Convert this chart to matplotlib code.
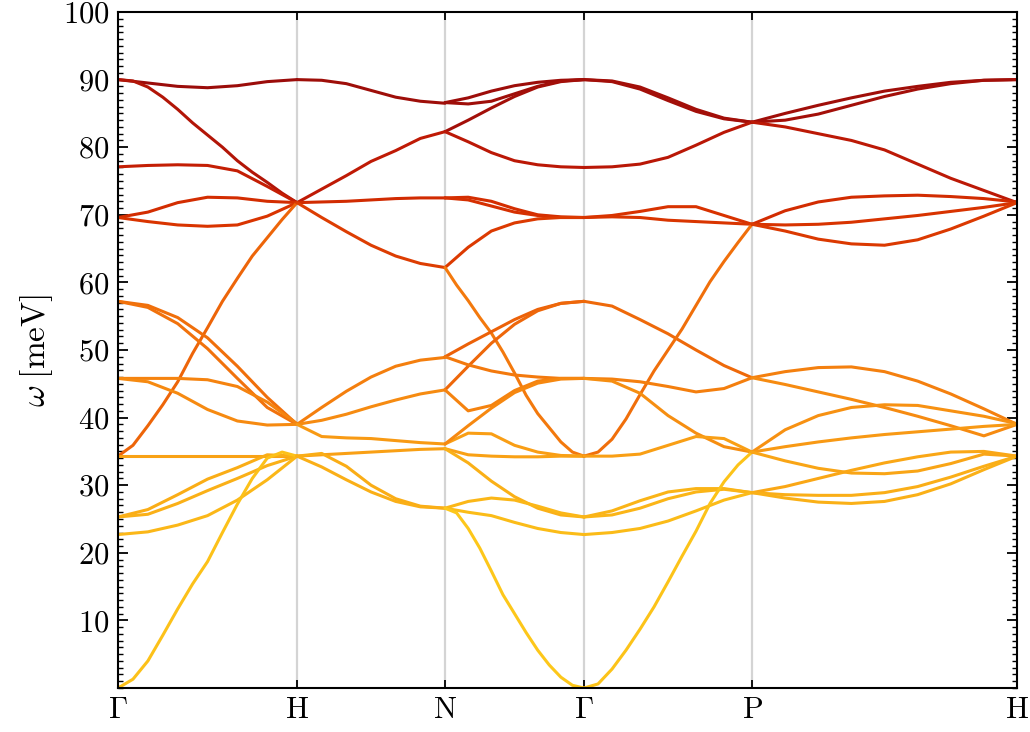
import numpy as np
import matplotlib
matplotlib.use("Agg")
import matplotlib.pyplot as plt
from matplotlib.colors import LinearSegmentedColormap

plt.rcParams['mathtext.fontset'] = 'cm'
plt.rcParams['font.family'] = 'serif'
plt.rcParams['font.serif'] = ['cmr10', 'DejaVu Serif']
plt.rcParams['axes.formatter.use_mathtext'] = True

kpt_labels = [r'$\Gamma$', r'$\mathrm{H}$', r'$\mathrm{N}$', r'$\Gamma$', r'$\mathrm{P}$', r'$\mathrm{H}$']
kpt_pos = [0, 179, 327, 466, 634, 899]

# ---- phonon branches, meV, sampled evenly along each segment ----
bands_GH = [
    [90.0, 89.5, 89.0, 88.8, 89.1, 89.7, 90.0],
    [90.0, 89.8, 88.9, 87.4, 85.6, 83.6, 81.8, 80.0, 78.0, 76.3, 74.8, 73.2, 71.8],
    [77.1, 77.3, 77.4, 77.3, 76.5, 74.2, 71.8],
    [69.6, 70.4, 71.8, 72.6, 72.5, 72.0, 71.8],
    [69.6, 69.0, 68.5, 68.3, 68.5, 69.8, 71.8],
    [34.3, 35.9, 38.8, 41.9, 45.3, 49.5, 53.3, 57.2, 60.6, 63.9, 66.6, 69.3, 71.8],
    [57.2, 56.6, 54.8, 51.8, 47.6, 43.0, 39.0],
    [57.2, 56.3, 53.9, 50.2, 45.8, 41.5, 39.0],
    [45.8, 45.8, 45.8, 45.6, 44.6, 42.3, 39.1],
    [45.8, 45.3, 43.6, 41.2, 39.5, 38.9, 39.0],
    [34.3, 34.3, 34.3, 34.3, 34.3, 34.3, 34.3],
    [25.3, 26.4, 28.6, 30.9, 32.6, 34.5, 34.3],
    [25.3, 25.7, 27.3, 29.2, 31.0, 32.9, 34.3],
    [22.7, 23.1, 24.1, 25.5, 27.8, 30.8, 34.3],
    [0.0, 1.3, 4.0, 7.8, 11.7, 15.4, 18.7, 23.0, 27.2, 31.0, 34.0, 34.9, 34.3],
]
bands_HN = [
    [90.0, 89.9, 89.4, 88.4, 87.4, 86.8, 86.5],
    [71.8, 73.8, 75.8, 77.9, 79.5, 81.3, 82.3],
    [71.8, 71.9, 72.0, 72.2, 72.4, 72.5, 72.5],
    [71.8, 69.6, 67.5, 65.5, 63.9, 62.8, 62.2],
    [39.0, 41.5, 43.9, 46.0, 47.6, 48.5, 48.9],
    [39.0, 39.6, 40.5, 41.6, 42.6, 43.5, 44.1],
    [39.0, 37.2, 37.0, 36.9, 36.6, 36.3, 36.1],
    [34.3, 34.5, 34.7, 34.9, 35.1, 35.3, 35.4],
    [34.3, 34.7, 32.8, 30.0, 28.0, 26.9, 26.6],
    [34.3, 32.7, 30.8, 29.0, 27.6, 26.8, 26.6],
]
bands_NG = [
    [86.6, 87.3, 88.3, 89.1, 89.6, 89.9, 90.0],
    [86.6, 86.4, 86.8, 87.9, 89.0, 89.8, 90.0],
    [82.3, 84.0, 85.8, 87.5, 88.9, 89.7, 90.0],
    [82.3, 80.8, 79.2, 78.0, 77.4, 77.1, 77.0],
    [72.5, 72.6, 72.0, 70.9, 70.0, 69.7, 69.6],
    [72.5, 72.2, 71.3, 70.4, 69.9, 69.6, 69.6],
    [62.2, 65.2, 67.6, 68.8, 69.4, 69.6, 69.6],
    [62.2, 59.6, 57.3, 54.8, 52.5, 49.7, 46.6, 43.3, 40.6, 38.5, 36.4, 34.9, 34.3],
    [49.0, 50.9, 52.7, 54.5, 56.0, 56.9, 57.2],
    [44.1, 47.6, 51.0, 53.8, 55.8, 56.9, 57.2],
    [49.0, 47.8, 46.9, 46.3, 46.0, 45.8, 45.8],
    [44.1, 41.0, 41.8, 44.0, 45.4, 45.8, 45.8],
    [36.1, 37.7, 37.6, 35.9, 34.9, 34.4, 34.3],
    [36.1, 38.8, 41.4, 43.7, 45.1, 45.7, 45.8],
    [35.4, 34.5, 34.3, 34.2, 34.2, 34.3, 34.3],
    [35.4, 33.3, 30.6, 28.3, 26.6, 25.6, 25.3],
    [26.6, 27.6, 28.1, 27.8, 26.9, 25.9, 25.3],
    [26.6, 26.0, 25.5, 24.5, 23.6, 23.0, 22.7],
    [26.6, 25.9, 23.6, 20.7, 17.3, 13.8, 11.0, 8.2, 5.6, 3.4, 1.6, 0.4, 0.0],
]
bands_GP = [
    [90.0, 89.8, 88.9, 87.3, 85.6, 84.3, 83.7],
    [90.0, 89.7, 88.6, 86.9, 85.3, 84.2, 83.7],
    [77.0, 77.1, 77.5, 78.5, 80.3, 82.2, 83.7],
    [69.6, 69.9, 70.5, 71.2, 71.2, 69.9, 68.6],
    [69.6, 69.7, 69.6, 69.2, 69.0, 68.8, 68.6],
    [57.2, 56.5, 54.5, 52.4, 50.0, 47.7, 45.9],
    [34.3, 34.9, 36.8, 39.8, 43.4, 46.9, 50.0, 53.1, 56.6, 60.1, 63.1, 65.9, 68.6],
    [45.8, 45.7, 45.3, 44.6, 43.8, 44.3, 45.9],
    [45.8, 45.4, 43.6, 40.3, 37.7, 35.7, 34.9],
    [34.3, 34.3, 34.6, 35.9, 37.2, 36.9, 34.9],
    [25.3, 26.2, 27.7, 29.0, 29.5, 29.5, 28.9],
    [25.3, 25.6, 26.6, 28.0, 29.0, 29.4, 28.9],
    [22.7, 23.0, 23.6, 24.7, 26.2, 27.8, 28.9],
    [0.0, 0.6, 2.8, 5.6, 8.7, 12.0, 15.7, 19.5, 23.2, 27.3, 30.5, 33.0, 34.9],
]
bands_PH = [
    [83.7, 85.0, 86.2, 87.3, 88.3, 89.0, 89.6, 89.9, 90.0],
    [83.7, 84.0, 84.9, 86.2, 87.5, 88.6, 89.4, 89.9, 90.0],
    [83.7, 83.0, 82.0, 81.0, 79.6, 77.5, 75.4, 73.6, 71.8],
    [68.6, 70.6, 71.9, 72.6, 72.8, 72.9, 72.7, 72.4, 71.9],
    [68.6, 68.5, 68.6, 68.9, 69.4, 69.9, 70.5, 71.1, 71.8],
    [68.6, 67.6, 66.4, 65.7, 65.5, 66.3, 67.9, 69.8, 71.8],
    [45.9, 46.8, 47.4, 47.5, 46.8, 45.4, 43.5, 41.3, 39.0],
    [45.9, 44.9, 43.8, 42.7, 41.5, 40.2, 38.8, 37.3, 39.0],
    [34.9, 38.2, 40.3, 41.5, 41.9, 41.8, 41.0, 40.2, 39.1],
    [34.9, 35.7, 36.4, 37.0, 37.5, 37.9, 38.3, 38.7, 39.0],
    [34.9, 33.6, 32.5, 31.8, 31.7, 32.1, 33.2, 34.6, 34.3],
    [28.9, 29.8, 31.0, 32.2, 33.3, 34.2, 34.9, 35.0, 34.3],
    [28.9, 28.6, 28.5, 28.5, 28.9, 29.8, 31.2, 32.8, 34.3],
    [28.9, 28.1, 27.5, 27.3, 27.6, 28.6, 30.2, 32.3, 34.3],
]
segments = [bands_GH, bands_HN, bands_NG, bands_GP, bands_PH]

y_ticks = [10, 20, 30, 40, 50, 60, 70, 80, 90, 100]

# colour gradient by energy (gold -> orange -> dark red)
cmap = LinearSegmentedColormap.from_list('ph', [
    (0.00, '#ffd21c'), (0.28, '#fbbb18'), (0.39, '#f9a015'),
    (0.51, '#f47d0e'), (0.64, '#e85506'), (0.78, '#d83200'),
    (0.86, '#c01a05'), (1.00, '#9a0c0a')])

fig = plt.figure(figsize=(10.30, 7.32), dpi=100)
ax = fig.add_axes([0.1146, 0.0601, 0.8728, 0.9235])

for xv in kpt_pos[1:-1]:
    ax.axvline(xv, color='#d4d4d4', lw=1.6, zorder=0)

for i, seg in enumerate(segments):
    for band in seg:
        b = np.asarray(band)
        xs = np.linspace(kpt_pos[i], kpt_pos[i + 1], len(b))
        ax.plot(xs, b, color=cmap(np.clip(b.mean() / 90.0, 0, 1)), lw=2.2,
                solid_capstyle='round', solid_joinstyle='round', zorder=2)

ax.set_xlim(kpt_pos[0], kpt_pos[-1])
ax.set_ylim(0, 100)
ax.set_xticks(kpt_pos)
ax.set_xticklabels(kpt_labels, fontsize=22)
ax.set_yticks(y_ticks)
ax.set_yticklabels([r'$%d$' % v for v in y_ticks], fontsize=22)
ax.set_yticks(np.arange(0, 101, 1), minor=True)
ax.tick_params(axis='y', which='major', direction='in', length=7, width=1.3,
               left=True, right=True, pad=6)
ax.tick_params(axis='y', which='minor', direction='in', length=3.5, width=1.0,
               left=True, right=True)
ax.tick_params(axis='x', which='major', direction='in', length=6, width=1.3,
               top=True, bottom=True, pad=6)
for s in ax.spines.values():
    s.set_linewidth(1.5)
ax.set_ylabel(r'$\omega\;[\mathrm{meV}]$', fontsize=24, labelpad=6)

fig.savefig('out.png', dpi=100)
